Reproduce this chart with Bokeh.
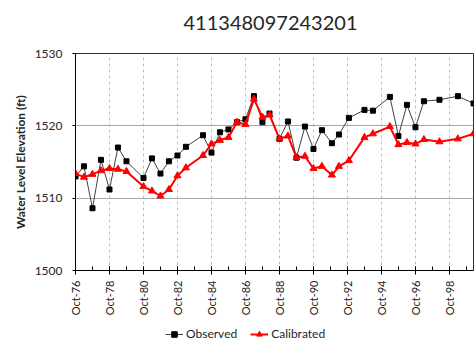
import pandas as pd
from math import pi
from bokeh.plotting import figure
from bokeh.layouts import column
from bokeh.models import (FixedTicker, DatetimeTickFormatter, Legend, LegendItem,
                          Range1d, ColumnDataSource, Label)
from bokeh.embed import file_html
from bokeh.resources import INLINE

title_text = "411348097243201"
y_title = "Water Level Elevation (ft)"

dates = ["1976-10", "1977-04", "1977-10", "1978-04", "1978-10", "1979-04", "1979-10",
         "1980-10", "1981-04", "1981-10", "1982-04", "1982-10", "1983-04", "1984-04",
         "1984-10", "1985-04", "1985-10", "1986-04", "1986-10", "1987-04", "1987-10",
         "1988-03", "1988-10", "1989-04", "1989-10", "1990-04", "1990-10", "1991-04",
         "1991-11", "1992-04", "1992-11", "1993-10", "1994-04", "1995-04", "1995-10",
         "1996-04", "1996-10", "1997-04", "1998-03", "1999-04", "2000-03"]

observed = [1513.0, 1514.4, 1508.6, 1515.3, 1511.2, 1517.0, 1515.1, 1512.8, 1515.5, 1513.4,
            1515.1, 1515.9, 1517.1, 1518.7, 1516.3, 1519.1, 1519.5, 1520.5, 1520.9, 1524.1,
            1520.5, 1521.7, 1518.2, 1520.6, 1515.6, 1519.9, 1516.8, 1519.4, 1517.6, 1518.8,
            1521.1, 1522.2, 1522.1, 1524.0, 1518.6, 1522.9, 1519.8, 1523.4, 1523.6, 1524.1,
            1523.1]

calibrated = [1513.4, 1512.9, 1513.3, 1513.8, 1514.1, 1514.0, 1513.7, 1511.6, 1511.0, 1510.3,
              1511.2, 1513.1, 1514.2, 1515.9, 1517.5, 1518.0, 1518.4, 1520.5, 1520.2, 1523.7,
              1521.2, 1521.5, 1518.2, 1518.6, 1515.6, 1515.8, 1514.1, 1514.4, 1513.2, 1514.4,
              1515.2, 1518.4, 1518.9, 1519.9, 1517.4, 1517.7, 1517.5, 1518.1, 1517.8, 1518.2,
              1518.9]

series_names = ["Observed", "Calibrated"]

major_tick_dates = ["1976-10", "1978-10", "1980-10", "1982-10", "1984-10", "1986-10",
                    "1988-10", "1990-10", "1992-10", "1994-10", "1996-10", "1998-10"]
minor_tick_dates = ["%d-10" % y for y in range(1976, 2000)]
y_ticks = [1500, 1510, 1520, 1530]
x_start, x_end = "1976-10", "2000-03"
y_start, y_end = 1500, 1530


def ms(d):
    return pd.Timestamp(d).value / 1e6


src = ColumnDataSource(dict(x=pd.to_datetime(dates), obs=observed, cal=calibrated))

FONT = "Lato"
TXT = "#262626"
OBS_LINE, OBS_MARK, CAL = "#404040", "black", "#ff0000"


def strip(height):
    s = figure(width=475, height=height, output_backend="svg", toolbar_location=None,
               x_range=Range1d(0, 1), y_range=Range1d(0, 1),
               x_axis_location=None, y_axis_location=None,
               min_border_left=0, min_border_right=0, min_border_top=0, min_border_bottom=0)
    s.outline_line_color = None
    s.xgrid.visible = False
    s.ygrid.visible = False
    s.background_fill_color = "white"
    s.border_fill_color = "white"
    return s


# title strip
top = strip(40)
top.add_layout(Label(x=0.5, y=0.43, text=title_text, text_align="center",
                     text_baseline="middle", x_offset=-4, text_font=FONT,
                     text_font_size="20px", text_color=TXT))

fig = figure(width=475, height=280, x_axis_type="datetime",
             x_range=Range1d(pd.Timestamp(x_start), pd.Timestamp(x_end)),
             y_range=Range1d(y_start, y_end),
             output_backend="svg", toolbar_location=None,
             min_border_left=75, min_border_right=2, min_border_top=13, min_border_bottom=50)

fig.background_fill_color = "white"
fig.border_fill_color = "white"
fig.outline_line_color = "#303030"
fig.outline_line_width = 1

# x axis
xa = fig.xaxis[0]
xa.ticker = FixedTicker(ticks=[ms(d) for d in major_tick_dates],
                        minor_ticks=[ms(d) for d in minor_tick_dates])
fmt = "%b-%y"
xa.formatter = DatetimeTickFormatter(years=fmt, months=fmt, days=fmt, hours=fmt,
                                     minutes=fmt, seconds=fmt, milliseconds=fmt,
                                     microseconds=fmt, hourmin=fmt, minsec=fmt)
xa.major_label_orientation = pi / 2
xa.major_label_text_font = FONT
xa.major_label_text_font_size = "11px"
xa.major_label_text_color = TXT
xa.major_label_standoff = 6
xa.axis_line_color = "black"
xa.major_tick_line_color = "black"
xa.minor_tick_line_color = "black"
xa.major_tick_in = 4
xa.major_tick_out = 4
xa.minor_tick_in = 4
xa.minor_tick_out = 0

# y axis
ya = fig.yaxis[0]
ya.ticker = FixedTicker(ticks=y_ticks, minor_ticks=[])
ya.axis_label = y_title
ya.axis_label_text_font = FONT
ya.axis_label_text_font_size = "12px"
ya.axis_label_text_font_style = "bold"
ya.axis_label_text_color = TXT
ya.axis_label_standoff = 4
ya.major_label_text_font = FONT
ya.major_label_text_font_size = "12px"
ya.major_label_text_color = TXT
ya.major_label_standoff = 10
ya.axis_line_color = "black"
ya.major_tick_line_color = "black"
ya.major_tick_in = 0
ya.major_tick_out = 3
ya.minor_tick_line_color = None

# grids
fig.xgrid.grid_line_color = "#bfbfbf"
fig.xgrid.grid_line_dash = "3 3"
fig.xgrid.grid_line_width = 1
fig.ygrid.grid_line_color = "#a6a6a6"
fig.ygrid.grid_line_width = 1

fig.line("x", "obs", source=src, line_color=OBS_LINE, line_width=1)
fig.scatter("x", "obs", source=src, marker="square", size=5,
            fill_color=OBS_MARK, line_color=OBS_MARK)
fig.line("x", "cal", source=src, line_color=CAL, line_width=2)
fig.scatter("x", "cal", source=src, marker="triangle", size=7,
            fill_color=CAL, line_color=CAL)

# legend strip below the chart (same styles as the series; NaN keeps them off-canvas)
leg = strip(27)
nan_src = ColumnDataSource(dict(x=[float("nan")], y=[float("nan")]))
lo = leg.line("x", "y", source=nan_src, line_color=OBS_LINE, line_width=1)
so = leg.scatter("x", "y", source=nan_src, marker="square", size=5,
                 fill_color=OBS_MARK, line_color=OBS_MARK)
lc = leg.line("x", "y", source=nan_src, line_color=CAL, line_width=2)
sc = leg.scatter("x", "y", source=nan_src, marker="triangle", size=7,
                 fill_color=CAL, line_color=CAL)
legend = Legend(items=[LegendItem(label=series_names[0], renderers=[lo, so]),
                       LegendItem(label=series_names[1], renderers=[lc, sc])],
                orientation="horizontal", location=(90, 6),
                border_line_color=None, background_fill_alpha=0,
                padding=0, margin=0, spacing=13, label_standoff=3,
                glyph_width=18, glyph_height=14, label_height=14,
                label_text_font=FONT, label_text_font_size="12px",
                label_text_color=TXT)
leg.add_layout(legend)

p = column(top, fig, leg, spacing=0)

open("out.html", "w").write(file_html(p, INLINE))
